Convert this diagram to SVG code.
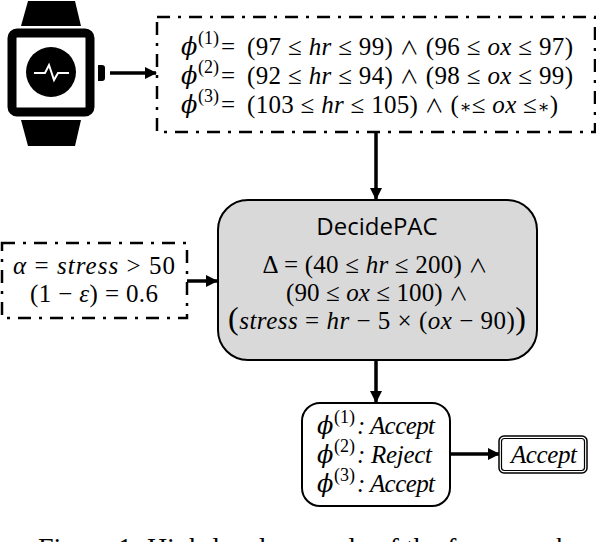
<svg xmlns="http://www.w3.org/2000/svg" width="596" height="542" viewBox="0 0 596 542">
<style>
.m{font-family:"Liberation Serif","DejaVu Serif",serif;font-size:25px;fill:#000}
.i{font-style:italic}
.p{font-family:"DejaVu Serif",serif;font-size:24px;font-style:italic}
.s{font-size:18px}
.w{font-family:"Noto Sans CJK SC",serif;font-size:19px}
.dd{fill:none;stroke:#000;stroke-width:2.5;stroke-dasharray:13 8 3 8}
.c{fill:none;stroke:#000;stroke-width:3.5}
.mid{text-anchor:middle}
</style>
<defs>
<marker id="a" markerUnits="userSpaceOnUse" markerWidth="12" markerHeight="12" refX="11" refY="6" orient="auto"><path d="M0 0L12 6L0 12z" fill="#000"/></marker>
</defs>
<g id="watch">
<path d="M28 1H75L81 26H21z"/>
<path d="M21 120H81L75 146H28z"/>
<rect x="12" y="33" width="78" height="79" rx="5" fill="#fff" stroke="#000" stroke-width="9"/>
<circle cx="51" cy="72" r="25"/>
<path d="M34 73H45L49 65L54 80L58 73H69" fill="none" stroke="#fff" stroke-width="2"/>
<path d="M98 65H102Q105 65 105 68V78Q105 81 102 81H98z"/>
</g>
<g id="connectors">
<path class="c" marker-end="url(#a)" d="M110 73H156"/>
<path class="c" marker-end="url(#a)" d="M376 132V199"/>
<path class="c" marker-end="url(#a)" d="M187 281H217"/>
<path class="c" marker-end="url(#a)" d="M376 361V402"/>
<path class="c" marker-end="url(#a)" d="M450 454H499"/>
</g>
<g id="constraints">
<rect class="dd" x="157" y="17" width="438" height="115"/>
<text class="p" x="181" y="55">ϕ</text><text class="m s" x="198" y="44">(1)</text><text class="m" x="221" y="55">=</text>
<text class="m" x="247" y="55" textLength="326"><tspan>(97 ≤ </tspan><tspan class="i">hr</tspan><tspan> ≤ 99) </tspan><tspan class="w">∧</tspan><tspan> (96 ≤ </tspan><tspan class="i">ox</tspan><tspan> ≤ 97)</tspan></text>
<text class="p" x="181" y="84">ϕ</text><text class="m s" x="198" y="73">(2)</text><text class="m" x="221" y="84">=</text>
<text class="m" x="247" y="84" textLength="326"><tspan>(92 ≤ </tspan><tspan class="i">hr</tspan><tspan> ≤ 94) </tspan><tspan class="w">∧</tspan><tspan> (98 ≤ </tspan><tspan class="i">ox</tspan><tspan> ≤ 99)</tspan></text>
<text class="p" x="181" y="113">ϕ</text><text class="m s" x="198" y="102">(3)</text><text class="m" x="221" y="113">=</text>
<text class="m" x="247" y="113" textLength="311"><tspan>(103 ≤ </tspan><tspan class="i">hr</tspan><tspan> ≤ 105) </tspan><tspan class="w">∧</tspan><tspan> (</tspan><tspan font-size="18">∗</tspan><tspan>≤ </tspan><tspan class="i">ox</tspan><tspan> ≤</tspan><tspan font-size="18">∗</tspan><tspan>)</tspan></text>
</g>
<g id="property">
<rect class="dd" x="2" y="243" width="185" height="75"/>
<text class="m mid" x="94" y="274" textLength="162"><tspan class="i">α</tspan> = <tspan class="i">stress</tspan> &gt; 50</text>
<text class="m mid" x="94" y="302" textLength="128">(1 − <tspan class="i">ε</tspan>) = 0.6</text>
</g>
<g id="decidepac">
<rect x="218" y="200" width="319" height="160" rx="30" fill="#d9d9d9" stroke="#000" stroke-width="2"/>
<text x="377" y="235" class="mid" font-family="'Open Sans','Noto Sans',sans-serif" font-size="24">DecidePAC</text>
<text class="m mid" x="375" y="273" textLength="225">Δ = (40 ≤ <tspan class="i">hr</tspan> ≤ 200) <tspan class="w">∧</tspan></text>
<text class="m mid" x="377" y="301" textLength="182">(90 ≤ <tspan class="i">ox</tspan> ≤ 100) <tspan class="w">∧</tspan></text>
<text class="m mid" x="377" y="329" textLength="298"><tspan font-size="32">(</tspan><tspan class="i">stress</tspan> = <tspan class="i">hr</tspan> − 5 × (<tspan class="i">ox</tspan> − 90)<tspan font-size="32">)</tspan></text>
</g>
<g id="results">
<rect x="302" y="403" width="148" height="103" rx="18" fill="#fff" stroke="#000" stroke-width="2"/>
<text class="p" x="317" y="434">ϕ</text><text class="m s" x="334" y="423">(1)</text><text class="m i" x="357" y="434" textLength="78">: Accept</text>
<text class="p" x="317" y="463">ϕ</text><text class="m s" x="334" y="452">(2)</text><text class="m i" x="357" y="463" textLength="75">: Reject</text>
<text class="p" x="317" y="492">ϕ</text><text class="m s" x="334" y="481">(3)</text><text class="m i" x="357" y="492" textLength="78">: Accept</text>
</g>
<g id="verdict">
<rect x="499" y="436" width="88" height="37" rx="5" fill="#fff" stroke="#000" stroke-width="1.5"/>
<rect x="501.5" y="438.5" width="83" height="32" rx="3" fill="none" stroke="#000" stroke-width="1.2"/>
<text class="m i mid" x="544" y="463" textLength="66">Accept</text>
</g>
<text id="caption" x="38" y="557" font-family="'Liberation Serif',serif" font-size="28">Figure 1: High-level example of the framework</text>
</svg>
